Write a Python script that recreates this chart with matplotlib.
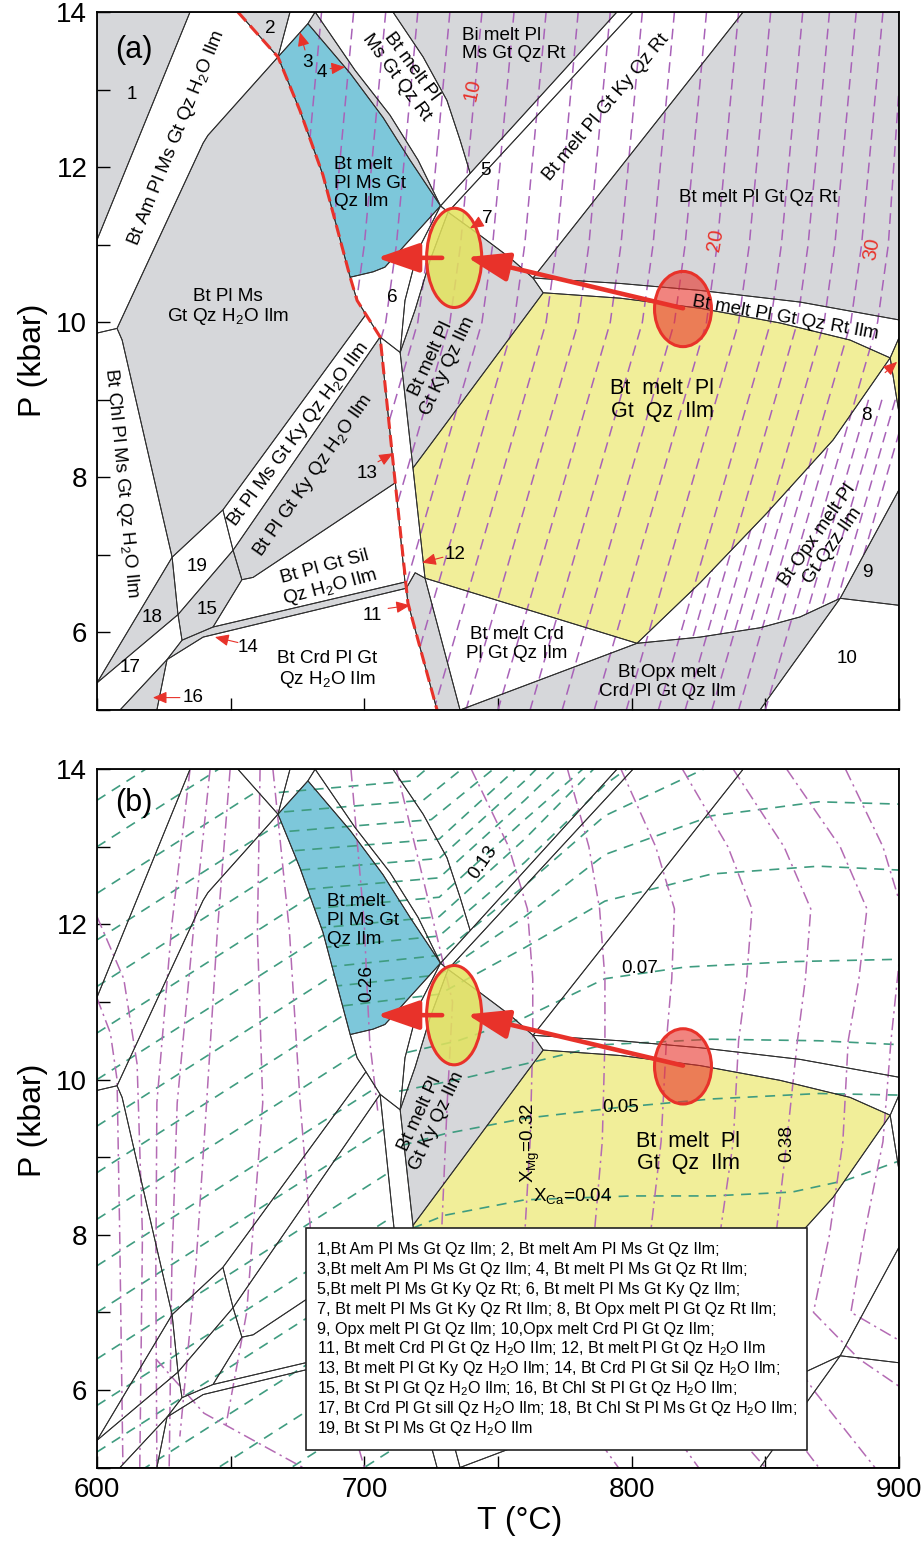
import numpy as np
import matplotlib.pyplot as plt
from matplotlib.patches import Polygon, Ellipse, Rectangle
from matplotlib.ticker import MultipleLocator, FixedLocator

plt.rcParams['font.family'] = ['Liberation Sans', 'DejaVu Sans']
plt.rcParams['mathtext.fontset'] = 'custom'
plt.rcParams['mathtext.rm'] = 'Liberation Sans'
plt.rcParams['mathtext.it'] = 'Liberation Sans:italic'
NARROW = ['Liberation Sans Narrow', 'Liberation Sans', 'DejaVu Sans']

GRAY = '#d6d7da'
BLUE = '#7dc7da'
YELLOW = '#f1ee99'
RED = '#e8322a'
PURPLE = '#a862b8'
MAUVE = '#b46bb4'
GREEN = '#3f9c80'
EDGE = '#2f2f2f'

# solidus, T (degC), P (kbar)
solidus = [(652.7, 14.0), (667.7, 13.42), (675.9, 12.73), (684.5, 11.90), (694.7, 10.58),
           (697.3, 10.28), (705.9, 9.81), (710.4, 8.31), (716.3, 6.38), (727.2, 5.0)]

# assemblage fields
f1 = [(600, 14), (634.8, 14), (600, 11.06)]
f2 = [(652.7, 14), (672.2, 14), (667.7, 13.42)]
f3 = [(672.2, 14), (681.6, 14), (678.9, 13.85), (667.7, 13.42)]
f_am = [(634.8, 14), (652.7, 14), (667.7, 13.42), (641.5, 12.41), (639.7, 12.31), (607.5, 9.92),
        (600, 9.86), (600, 11.06)]
f_pl_ms = [(667.7, 13.42), (641.5, 12.41), (639.7, 12.31), (607.5, 9.92), (609.4, 9.77), (618.0, 8.48),
           (628.1, 6.97), (647.1, 7.58), (700.6, 10.10), (697.3, 10.28), (694.7, 10.58), (684.5, 11.90),
           (675.9, 12.73)]
f_chl = [(600, 9.86), (607.5, 9.92), (609.4, 9.77), (618.0, 8.48), (628.1, 6.97), (600, 5.35)]
f18 = [(600, 5.35), (628.1, 6.97), (630.3, 6.23)]
f17 = [(600, 5.35), (630.3, 6.23), (631.8, 5.90), (626.2, 5.65), (608.6, 5.0), (600, 5.0)]
f16 = [(608.6, 5.0), (626.2, 5.65), (622.4, 5.0)]
f19 = [(628.1, 6.97), (647.1, 7.58), (650.9, 7.06), (630.3, 6.23)]
f15 = [(630.3, 6.23), (650.9, 7.06), (654.2, 6.68), (643.4, 6.07), (631.8, 5.90)]
f_ms_ky = [(647.1, 7.58), (700.6, 10.10), (705.9, 9.81), (650.9, 7.06)]
f_gt_ky = [(650.9, 7.06), (705.9, 9.81), (710.4, 8.31), (711.6, 7.93), (658.4, 6.71), (654.2, 6.68)]
f_sil = [(654.2, 6.68), (658.4, 6.71), (711.6, 7.93), (715.2, 6.65), (643.4, 6.07)]
f14 = [(631.8, 5.90), (643.4, 6.07), (715.2, 6.65), (715.7, 6.57), (639.7, 5.94), (626.2, 5.65)]
f_crd = [(626.2, 5.65), (639.7, 5.94), (715.7, 6.57), (716.3, 6.38), (727.2, 5.0), (622.4, 5.0)]
f11 = [(715.7, 6.57), (719.0, 6.77), (722.7, 6.70), (735.8, 5.0), (727.2, 5.0), (716.3, 6.38)]
f13 = [(705.9, 9.81), (713.4, 9.61), (718.2, 8.12), (722.7, 6.70), (719.0, 6.77), (715.7, 6.57),
       (715.2, 6.65), (711.6, 7.93), (710.4, 8.31)]
f_melt_crd = [(722.7, 6.70), (802, 5.86), (735.8, 5.0)]
f_opx_crd = [(735.8, 5.0), (802, 5.86), (825.6, 5.94), (848, 6.06), (863, 6.20), (878, 6.44), (848, 5.0)]
f9 = [(878, 6.44), (900, 7.84), (900, 6.35)]
f10 = [(848, 5.0), (878, 6.44), (900, 6.35), (900, 5.0)]
f_opx = [(802, 5.86), (825.6, 6.64), (850.6, 7.54), (875.3, 8.48), (896.7, 9.54), (900, 8.83), (900, 7.84),
         (878, 6.44), (863, 6.20), (848, 6.06), (825.6, 5.94)]
f8 = [(896.7, 9.54), (900, 9.80), (900, 8.83)]
f_ilm = [(718.2, 8.12), (766.9, 10.38), (795.7, 10.31), (825.6, 10.18), (855.5, 9.99), (881.7, 9.77),
         (896.7, 9.54), (875.3, 8.48), (850.6, 7.54), (825.6, 6.64), (802, 5.86), (722.7, 6.70)]
f_rt_ilm = [(763.1, 10.57), (795.7, 10.50), (825.6, 10.41), (863, 10.26), (900, 10.03), (900, 9.80),
            (896.7, 9.54), (881.7, 9.77), (855.5, 9.99), (825.6, 10.18), (795.7, 10.31), (766.9, 10.38)]
f_rt = [(841.7, 14), (900, 14), (900, 10.03), (863, 10.26), (825.6, 10.41), (795.7, 10.50), (763.1, 10.57)]
f_ky_rt = [(800.5, 14), (841.7, 14), (763.1, 10.57), (754.5, 10.83), (743.3, 11.12), (731.3, 11.42)]
f5 = [(794.5, 14), (800.5, 14), (731.3, 11.42), (728.5, 11.5)]
f_bi = [(710.7, 14), (794.5, 14), (739.6, 11.92), (735.8, 12.35), (730.9, 12.86), (722, 13.42)]
f_ms_rt = [(681.6, 14), (710.7, 14), (722, 13.42), (730.9, 12.86), (735.8, 12.35), (739.6, 11.92),
           (728.5, 11.5), (720.1, 12.09), (709.6, 12.67), (696.5, 13.25)]
f4 = [(678.9, 13.85), (681.6, 14), (696.5, 13.25), (709.6, 12.67), (720.1, 12.09), (728.5, 11.5),
      (717.1, 12.09), (707, 12.64), (694.7, 13.21)]
f_ms = [(678.9, 13.85), (667.7, 13.42), (675.9, 12.73), (684.5, 11.90), (694.7, 10.58), (703.3, 10.65),
        (707.7, 10.71), (728.5, 11.5), (717.1, 12.09), (707, 12.64), (694.7, 13.21)]
f6 = [(694.7, 10.58), (703.3, 10.65), (707.7, 10.71), (728.5, 11.5), (720.1, 10.93), (715.2, 10.28),
      (713.4, 9.61), (705.9, 9.81), (697.3, 10.28)]
f7 = [(728.5, 11.5), (731.3, 11.42), (724.6, 10.80), (719, 10.16), (713.4, 9.61), (715.2, 10.28),
      (720.1, 10.93)]
f_ky_ilm = [(731.3, 11.42), (743.3, 11.12), (754.5, 10.83), (763.1, 10.57), (766.9, 10.38), (718.2, 8.12),
            (713.4, 9.61), (719, 10.16), (724.6, 10.80)]

white_fields = [f3, f_am, f_chl, f17, f19, f_ms_ky, f_sil, f_crd, f13, f_melt_crd, f10, f_opx,
                f_rt_ilm, f_ky_rt, f5, f_ms_rt, f6, f7]
gray_fields_a = [f1, f2, f_pl_ms, f18, f16, f15, f_gt_ky, f14, f11, f_opx_crd, f9, f_rt, f_bi, f4]
all_fields = white_fields + gray_fields_a + [f_ky_ilm, f_ms, f_ilm, f8]

# melt isopleths (vol%): T at P = 14, 11, 10, 5 kbar
melt_T14 = [684, 696, 708, 720, 732, 744, 756, 768, 780, 792, 804, 816, 828, 840, 852, 864, 874, 884, 894, 902]
melt_T11 = [676, 688, 700, 712, 724, 736, 748, 760, 772, 784, 796, 808, 820, 832, 844, 856, 866, 876, 886, 896]
melt_T10 = [672, 684, 696, 708, 720, 732, 744, 756, 768, 780, 792, 804, 816, 828, 840, 852, 862, 872, 882, 892]
melt_T5 = [630, 642, 654, 666, 678, 690, 702, 714, 726, 738, 750, 762, 774, 786, 798, 810, 820, 830, 840, 850]
# extra melt isopleths crowded in the Opx field: T at P = 9 and 5 kbar
opx_T9 = [848.6, 858.6, 868.6, 878.6, 888.6, 893.6, 898.6, 903.6]
opx_T5 = [815, 825, 835, 845, 855, 860, 865, 870]

# garnet X_Ca isopleths above the solidus
xca_melt = [
    [(712, 8.0), (730, 8.25), (760, 8.45), (800, 8.5), (830, 8.5), (860, 8.55), (880, 8.7), (900, 8.95)],
    [(714, 9.15), (730, 9.3), (760, 9.5), (795, 9.64), (830, 9.75), (870, 9.82), (900, 9.8)],
    [(713, 9.85), (735, 10.0), (760, 10.2), (790, 10.45), (830, 10.52), (870, 10.5), (900, 10.45)],
    [(716, 10.35), (735, 10.5), (760, 10.8), (790, 11.3), (820, 11.45), (860, 11.52), (900, 11.55)],
    [(692, 10.95), (728, 11.1), (760, 11.7), (790, 12.3), (830, 12.65), (870, 12.75), (900, 12.7)],
    [(688, 11.2), (728, 11.35), (760, 12.1), (790, 12.9), (830, 13.4), (870, 13.58), (900, 13.55)],
    [(686, 11.45), (728, 11.6), (760, 12.5), (790, 13.4), (830, 14.05)],
    [(684, 11.7), (728, 11.85), (760, 12.8), (790, 13.8), (810, 14.3)],
    [(682, 11.95), (728, 12.1), (760, 13.1), (790, 14.15)],
    [(680, 12.2), (728, 12.35), (760, 13.35), (785, 14.1)],
    [(678, 12.45), (728, 12.6), (760, 13.6), (775, 14.1)],
    [(676, 12.7), (728, 12.85), (760, 13.85), (770, 14.2)],
    [(674, 12.95), (728, 13.1), (755, 13.95), (765, 14.3)],
    [(672, 13.2), (725, 13.35), (750, 14.05)],
    [(670, 13.45), (722, 13.6), (740, 14.1)],
    [(668, 13.7), (718, 13.85), (730, 14.2)],
]
# garnet X_Ca isopleths below the solidus: P at 600 and 730 degC
xca_sub_P600 = [2.2, 2.8, 3.4, 4.0, 4.6, 5.2, 5.8, 6.4, 7.0, 7.6, 8.2, 8.8, 9.4, 10.0, 10.6, 11.2,
                11.8, 12.4, 13.0, 13.6]
xca_sub_P730 = [5.06, 5.66, 6.26, 6.86, 7.46, 8.06, 8.66, 9.26, 9.86, 10.46, 11.06, 11.66, 12.26,
                12.86, 13.46, 14.06, 14.66, 15.26, 15.86, 16.46]

# garnet X_Mg isopleths
xmg_lines = [
    [(695, 14), (700, 12), (701, 11.2), (702, 10.5), (705, 9.6)],
    [(712, 14), (724, 12.3), (733, 11.0), (731, 9.7), (729, 8.1), (727, 7.0)],
    [(740, 14), (754, 13), (761, 12.2), (763, 11.3), (763, 10.5), (762, 9.2), (760, 8.0), (757, 7.0),
     (770, 6.2), (795, 5.0)],
    [(776, 14), (784, 13), (788, 12.2), (790, 11.3), (790, 10.5), (789, 9.2), (786, 8.0), (782, 7.0),
     (800, 6.2), (825, 5.0)],
    [(796, 14), (809, 13), (816, 12.2), (815, 11.3), (813, 10.5), (811, 9.2), (807, 8.0), (803, 7.0),
     (822, 6.1), (850, 5.0)],
    [(819, 14), (836, 13), (845, 12.2), (843, 11.3), (840, 10.5), (838, 9.2), (833, 8.0), (828, 7.0),
     (848, 6.0), (870, 5.0)],
    [(838, 14), (857, 13), (867, 12.2), (865, 11.3), (862, 10.5), (858, 9.2), (854, 8.0), (848, 7.0),
     (868, 6.0), (891, 5.0)],
    [(858, 14), (878, 13), (888, 12.2), (885, 11.3), (881, 10.5), (879, 9.2), (874, 8.0), (868, 7.0),
     (885, 6.4), (902, 6.0)],
    [(880, 14), (894, 13), (901, 12.2), (900, 11.5), (897, 10.5), (894, 9.2), (887, 8.0), (882, 7.0),
     (902, 6.6)],
    [(600, 11.05), (605, 10.6), (607.5, 10.0), (608.5, 8.0), (609.7, 5.0)],
    [(600, 12.1), (610, 11.3), (615, 10.2), (617, 8.0), (616, 5.0)],
    [(634.8, 14), (628, 12.0), (622.4, 9.7), (622, 7.5), (622.4, 5.0)],
    [(642.3, 14), (636, 11.9), (630, 9.7), (628, 7.6), (627, 5.0)],
    [(649.8, 14), (645, 11.9), (641, 9.7), (637, 7.6), (631, 5.4)],
    [(661, 14), (660, 11.9), (662, 9.7), (656, 7.0), (648, 5.5)],
    [(665.8, 14), (672, 11.9), (676, 9.7), (680, 8.0), (690, 6.2), (700, 5.0)],
    [(622, 6.4), (640, 5.7), (677, 5.0)],
]

# pointer arrows: tail, head
big_arrows = [((819.2, 10.18), (738.4, 10.84)), ((729.1, 10.83), (704.7, 10.83))]
leaders_a = [((677.8, 13.51), (675.9, 13.74)), ((687.2, 13.27), (692.8, 13.29)),
             ((743.3, 11.29), (739.5, 11.21)), ((894.8, 9.35), (899.3, 9.49)),
             ((705.1, 8.20), (710.7, 8.31)), ((729.4, 6.97), (721.6, 6.90)),
             ((708.9, 6.31), (717.1, 6.35)), ((652.7, 5.87), (644.1, 5.94)),
             ((631.0, 5.16), (620.9, 5.16))]

legend_lines = [
    "1,Bt Am Pl Ms Gt Qz Ilm; 2, Bt melt Am Pl Ms Gt Qz Ilm;",
    "3,Bt melt Am Pl Ms Gt Qz Ilm; 4, Bt melt Pl Ms Gt Qz Rt Ilm;",
    "5,Bt melt Pl Ms Gt Ky Qz Rt; 6, Bt melt Pl Ms Gt Ky Qz Ilm;",
    "7, Bt melt Pl Ms Gt Ky Qz Rt Ilm; 8, Bt Opx melt Pl Gt Qz Rt Ilm;",
    "9, Opx melt Pl Gt Qz Ilm; 10,Opx melt Crd Pl Gt Qz Ilm;",
    "11, Bt melt Crd Pl Gt Qz H$_2$O Ilm; 12, Bt melt Pl Gt Qz H$_2$O Ilm",
    "13, Bt melt Pl Gt Ky Qz H$_2$O Ilm; 14, Bt Crd Pl Gt Sil Qz H$_2$O Ilm;",
    "15, Bt St Pl Gt Qz H$_2$O Ilm; 16, Bt Chl St Pl Gt Qz H$_2$O Ilm;",
    "17, Bt Crd Pl Gt sill Qz H$_2$O Ilm; 18, Bt Chl St Pl Ms Gt Qz H$_2$O Ilm;",
    "19, Bt St Pl Ms Gt Qz H$_2$O Ilm",
]

LABEL_SIZE = 13.6


def setup(ax, xlabels):
    ax.set_xlim(600, 900)
    ax.set_ylim(5, 14)
    ax.xaxis.set_major_locator(MultipleLocator(100))
    ax.xaxis.set_minor_locator(MultipleLocator(50))
    ax.yaxis.set_major_locator(FixedLocator([6, 8, 10, 12, 14]))
    ax.yaxis.set_minor_locator(MultipleLocator(1))
    ax.tick_params(which='both', direction='in', length=9, width=1.0, labelsize=20,
                   labelfontfamily=NARROW, pad=7)
    ax.tick_params(labelbottom=xlabels)
    for s in ax.spines.values():
        s.set_linewidth(1.3)
        s.set_zorder(10)


def fields(ax, gray, blue, yellow):
    for f in all_fields:
        fc = 'white'
        if any(f is g for g in gray):
            fc = GRAY
        if any(f is g for g in blue):
            fc = BLUE
        if any(f is g for g in yellow):
            fc = YELLOW
        ax.add_patch(Polygon(f, closed=True, fc=fc, ec='none', zorder=1))
    for f in all_fields:
        ax.add_patch(Polygon(f, closed=True, fill=False, ec=EDGE, lw=0.7, zorder=3))


def lab(ax, T, P, s, rot=0, size=LABEL_SIZE, **kw):
    kw.setdefault('ha', 'center')
    ax.text(T, P, s, rotation=rot, rotation_mode='anchor', va='center', fontsize=size,
            linespacing=1.12, zorder=8, **kw)


def clipped(ax, xs, ys, clip, **kw):
    ln, = ax.plot(xs, ys, zorder=2, **kw)
    ln.set_clip_path(Polygon(clip, closed=True, transform=ax.transData))


def ellipses_arrows(ax):
    ax.add_patch(Ellipse((733.6, 10.83), 20.6, 1.28, fc='#e3e35c', alpha=0.85, ec='none', zorder=5))
    ax.add_patch(Ellipse((733.6, 10.83), 20.6, 1.28, fill=False, ec=RED, lw=2.2, zorder=5.5))
    ax.add_patch(Ellipse((819.2, 10.17), 21.3, 0.97, fc=RED, alpha=0.6, ec='none', zorder=5))
    ax.add_patch(Ellipse((819.2, 10.17), 21.3, 0.97, fill=False, ec=RED, lw=2.2, zorder=5.5))
    for tail, head in big_arrows:
        ax.annotate('', xy=head, xytext=tail, zorder=6,
                    arrowprops=dict(arrowstyle='-|>,head_length=1.3,head_width=0.45', color=RED,
                                    lw=3.3, shrinkA=0, shrinkB=0, mutation_scale=20))


melt_side = solidus + [(900, 5), (900, 14)]
solid_side = [(600, 14)] + solidus + [(600, 5)]

fig = plt.figure(figsize=(9.23, 15.41), dpi=100)
ax_a = fig.add_axes([97 / 923, 1 - 710 / 1541, 802 / 923, 698 / 1541])
ax_b = fig.add_axes([97 / 923, 1 - 1467.5 / 1541, 802 / 923, 698.3 / 1541])

# ---------------- panel (a) ----------------
setup(ax_a, False)
fields(ax_a, gray_fields_a + [f_ky_ilm], [f_ms], [f_ilm, f8])

melt_style = dict(color=PURPLE, lw=1.1, dashes=(7, 4))
for t14, t11, t10, t5 in zip(melt_T14, melt_T11, melt_T10, melt_T5):
    clipped(ax_a, [t14, t11, t10, t5], [14, 11, 10, 5], melt_side, **melt_style)
for t9, t5 in zip(opx_T9, opx_T5):
    clipped(ax_a, [t9, t5], [9, 5], f_opx, **melt_style)

sx, sy = zip(*solidus)
ax_a.plot(sx, sy, color=RED, lw=2.2, dashes=(4, 2), zorder=4)
ellipses_arrows(ax_a)
for tail, head in leaders_a:
    ax_a.annotate('', xy=head, xytext=tail, zorder=7,
                  arrowprops=dict(arrowstyle='-|>,head_length=0.7,head_width=0.3', color=RED,
                                  lw=0.8, shrinkA=0, shrinkB=0, mutation_scale=12))

ax_a.text(0.022, 0.946, '(a)', transform=ax_a.transAxes, fontsize=22, va='center', ha='left', zorder=8)
lab(ax_a, 613.1, 12.93, '1')
lab(ax_a, 629.9, 12.38, 'Bt Am Pl Ms Gt Qz H$_2$O Ilm', rot=68)
lab(ax_a, 664.7, 13.79, '2')
lab(ax_a, 678.6, 13.35, '3')
lab(ax_a, 684.2, 13.22, '4')
lab(ax_a, 688.5, 11.79, 'Bt melt\nPl Ms Gt\nQz Ilm', ha='left', multialignment='left')
lab(ax_a, 714.8, 13.23, 'Bt melt Pl\nMs Gt Qz Rt', rot=-53.5)
lab(ax_a, 736.5, 13.58, 'Bi melt Pl\nMs Gt Qz Rt', ha='left', multialignment='left')
lab(ax_a, 740.3, 12.99, '10', rot=78, color=RED, size=14.5)
lab(ax_a, 831.2, 11.06, '20', rot=80, color=RED, size=14.5)
lab(ax_a, 889.9, 10.95, '30', rot=80, color=RED, size=14.5)
lab(ax_a, 745.2, 11.96, '5')
lab(ax_a, 790.4, 12.77, 'Bt melt Pl Gt Ky Qz Rt', rot=50)
lab(ax_a, 847.3, 11.61, 'Bt melt Pl Gt Qz Rt')
lab(ax_a, 745.9, 11.34, '7')
lab(ax_a, 857.4, 10.05, 'Bt melt Pl Gt Qz Rt Ilm', rot=-10)
lab(ax_a, 649.0, 10.19, 'Bt Pl Ms\nGt Qz H$_2$O Ilm')
lab(ax_a, 710.4, 10.32, '6')
lab(ax_a, 728.0, 9.48, 'Bt melt Pl\nGt Ky Qz Ilm', rot=65)
lab(ax_a, 675.2, 8.55, 'Bt Pl Ms Gt Ky Qz H$_2$O Ilm', rot=53.5)
lab(ax_a, 680.8, 8.03, 'Bt Pl Gt Ky Qz H$_2$O Ilm', rot=55)
lab(ax_a, 609.0, 7.93, 'Bt Chl Pl Ms Gt Qz H$_2$O Ilm', rot=-84.5)
lab(ax_a, 637.4, 6.85, '19')
lab(ax_a, 620.6, 6.19, '18')
lab(ax_a, 641.2, 6.29, '15')
lab(ax_a, 612.3, 5.55, '17')
lab(ax_a, 635.9, 5.16, '16')
lab(ax_a, 656.5, 5.81, '14')
lab(ax_a, 686.4, 6.70, 'Bt Pl Gt Sil\nQz H$_2$O Ilm', rot=15)
lab(ax_a, 701.0, 8.05, '13')
lab(ax_a, 733.9, 7.00, '12')
lab(ax_a, 702.9, 6.22, '11')
lab(ax_a, 686.0, 5.52, 'Bt Crd Pl Gt\nQz H$_2$O Ilm')
lab(ax_a, 757.1, 5.85, 'Bt melt Crd\nPl Gt Qz Ilm')
lab(ax_a, 813.2, 5.36, 'Bt Opx melt\nCrd Pl Gt Qz Ilm')
lab(ax_a, 880.6, 5.67, '10')
lab(ax_a, 888.0, 6.77, '9')
lab(ax_a, 888.0, 8.80, '8')
lab(ax_a, 872.4, 7.19, 'Bt Opx melt Pl\nGt Qzz Ilm', rot=55)
lab(ax_a, 811.4, 9.00, 'Bt  melt  Pl\nGt  Qz  Ilm', size=15.5)

# ---------------- panel (b) ----------------
setup(ax_b, True)
fields(ax_b, [f_ky_ilm], [f_ms], [f_ilm])

ca_style = dict(color=GREEN, lw=1.2, dashes=(6, 4.5))
for line in xca_melt:
    lx, ly = zip(*line)
    clipped(ax_b, lx, ly, melt_side, **ca_style)
for p0, p1 in zip(xca_sub_P600, xca_sub_P730):
    clipped(ax_b, [600, 730], [p0, p1], solid_side, **ca_style)
for line in xmg_lines:
    lx, ly = zip(*line)
    ax_b.plot(lx, ly, color=MAUVE, lw=1.1, dashes=(8, 3, 1.5, 3), zorder=2)

ellipses_arrows(ax_b)
ax_b.text(0.022, 0.951, '(b)', transform=ax_b.transAxes, fontsize=22, va='center', ha='left', zorder=8)
lab(ax_b, 686.0, 12.05, 'Bt melt\nPl Ms Gt\nQz Ilm', ha='left', multialignment='left')
lab(ax_b, 723.8, 9.51, 'Bt melt Pl\nGt Ky Qz Ilm', rot=65)
lab(ax_b, 821.1, 9.06, 'Bt  melt  Pl\nGt  Qz  Ilm', size=15.5)
lab(ax_b, 744.4, 12.80, '0.13', rot=55)
lab(ax_b, 701.0, 11.24, '0.26', rot=90)
lab(ax_b, 803.1, 11.43, '0.07')
lab(ax_b, 795.7, 9.64, '0.05')
lab(ax_b, 762.0, 9.19, 'X$_{\\rm Mg}$=0.32', rot=90)
lab(ax_b, 858.1, 9.17, '0.38', rot=90)
lab(ax_b, 763.1, 8.50, 'X$_{\\rm Ca}$=0.04', ha='left')

ax_b.add_patch(Rectangle((0.2606, 0.025), 0.6247, 0.318, transform=ax_b.transAxes,
                         fc='white', ec='#222222', lw=1.2, zorder=9))
for i, s in enumerate(legend_lines):
    ax_b.text(0.2743, 0.3116 - i * 0.02837, s, transform=ax_b.transAxes, fontsize=11.6,
              va='center', ha='left', zorder=10)

fig.text(33 / 923, 1 - 360 / 1541, 'P (kbar)', rotation=90, ha='center', va='center',
         fontsize=23, family=NARROW)
fig.text(33 / 923, 1 - 1120 / 1541, 'P (kbar)', rotation=90, ha='center', va='center',
         fontsize=23, family=NARROW)
fig.text(520 / 923, 1 - 1521 / 1541, 'T (\u00b0C)', ha='center', va='center', fontsize=23,
         family=NARROW)

fig.savefig('out.png', dpi=100)
